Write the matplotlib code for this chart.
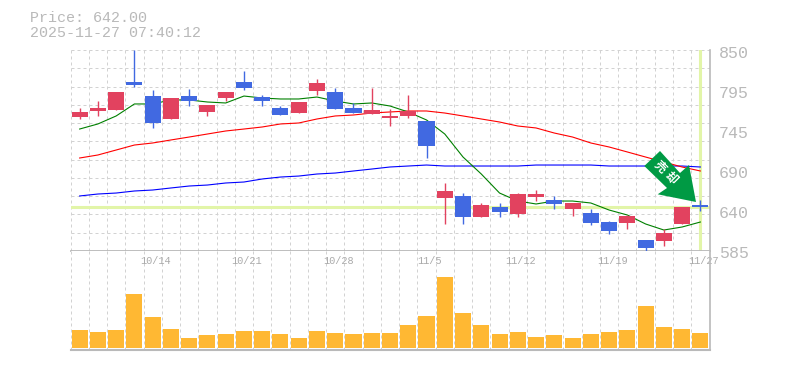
import matplotlib
matplotlib.use("Agg")
import matplotlib.pyplot as plt
import numpy as np
from matplotlib.patches import Polygon

W, H = 785, 370

# --- data ---
date_labels = ["10/14", "10/21", "10/28", "11/5", "11/12", "11/19", "11/27"]
date_index = [4, 9, 14, 19, 24, 29, 34]
price_labels = ["850", "795", "745", "690", "640", "585"]

opens = [761, 769, 770, 808, 789, 759, 789, 768, 786, 808, 788, 773, 767, 796, 795, 773,
         765, 760, 762, 756, 654, 657, 629, 642, 633, 655, 651, 640, 634, 622, 621, 598,
         597, 620, 645]
closes = [768, 773, 794, 804, 753, 786, 782, 777, 794, 800, 782, 764, 781, 806, 772, 767,
          771, 763, 769, 723, 663, 629, 645, 635, 659, 659, 646, 647, 621, 610, 630, 588,
          608, 642, 642]
highs = [773, 782, 794, 850, 797, 786, 798, 777, 795, 822, 790, 776, 781, 812, 799, 780,
         799, 772, 790, 756, 674, 660, 647, 647, 660, 665, 657, 647, 639, 624, 631, 598,
         613, 642, 651]
lows = [759, 763, 770, 801, 747, 759, 776, 763, 782, 797, 776, 764, 766, 791, 772, 767,
        765, 749, 760, 707, 619, 620, 629, 629, 629, 650, 640, 630, 618, 606, 613, 584,
        590, 620, 637]
volumes = [18, 16, 18, 54, 31, 19, 10, 13, 14, 17, 17, 14, 10, 17, 15, 14, 15, 15,
           23, 32, 71, 35, 23, 14, 16, 11, 13, 10, 14, 16, 18, 42, 21, 19, 15]

ma_short = [745.3, 752, 762.6, 778.5, 778.5, 783.8, 783.8, 781.1, 779.8, 789, 786.4, 785.1,
            785.1, 787.7, 782.4, 778.5, 779.8, 775.8, 767.9, 757.3, 738.7, 708.2, 685.7,
            660.5, 649.9, 646, 649.9, 649.9, 647.3, 638, 631.4, 619.5, 611.5, 615.5, 622.1]
ma_mid = [706.9, 710.9, 717.5, 724.1, 726.8, 730.8, 734.7, 738.7, 742.7, 745.3, 748, 752,
          753.3, 758.6, 762.6, 763.9, 766.5, 767.9, 769.2, 769.2, 766.5, 762.6, 758.6,
          754.6, 749.3, 746.7, 740, 734.7, 726.8, 721.5, 714.9, 708.2, 701.6, 695, 689.7]
ma_long = [656.6, 659.2, 660.5, 663.2, 664.5, 667.2, 669.8, 671.1, 673.8, 675.1, 679.1, 681.7,
           683, 685.7, 687, 689.7, 692.3, 695, 696.3, 697.6, 696.3, 696.3, 696.3, 696.3,
           696.3, 697.6, 697.6, 697.6, 697.6, 696.3, 696.3, 696.3, 696.3, 696.3, 695]

current_price = 642.0

RED = "#e2425f"
BLUE = "#4169e1"
ORANGE = "#ffb833"
GREY = "#b9b9b9"
GRID = "#d2d2d2"
HILITE = "#e2f5a8"
ARROW = "#009a44"
MONO = "Liberation Mono"
PX = 0.72  # one pixel in points


def fx(px):
    return px / W


def fy(py):
    return 1 - py / H


fig = plt.figure(figsize=(W / 100, H / 100), dpi=100, facecolor="white")

# axes placed in pixels
ax = fig.add_axes([fx(70.5), fy(251), (709.5 - 70.5) / W, 201 / H])
vol = fig.add_axes([fx(70.5), fy(350), (709.5 - 70.5) / W, 99 / H])

x = np.arange(len(opens))
ymin, ymax = 583.7, 850

for a in (ax, vol):
    a.set_xlim(-0.5, len(x) - 0.5)
    a.set_xticks(x - 0.5)
    a.tick_params(length=0, labelbottom=False, labelleft=False)
    a.grid(axis="x", color=GRID, lw=PX, ls=(0, (3, 3)))
    a.set_axisbelow(True)
    for s in a.spines.values():
        s.set_visible(False)

ax.set_ylim(ymin, ymax)
ax.set_yticks(np.linspace(ymin, ymax, 12))
ax.grid(axis="y", color=GRID, lw=PX, ls=(0, (3, 3)))

# highlight of last price and last date
ax.axhline(current_price, color=HILITE, lw=2.2, zorder=1)
ax.axvline(x[-1], color=HILITE, lw=2.2, zorder=1)

# moving averages
ax.plot(x, ma_long, color="#0000ff", lw=0.8, zorder=2)
ax.plot(x, ma_mid, color="#ff0000", lw=0.8, zorder=2)
ax.plot(x, ma_short, color="#008000", lw=0.8, zorder=2)

# candles, red is up and blue is down
for i in x:
    c = RED if closes[i] >= opens[i] else BLUE
    ax.vlines(i, lows[i], highs[i], color=c, lw=1.0, zorder=3)
    ax.bar(i, max(abs(closes[i] - opens[i]), 1.5), bottom=min(opens[i], closes[i]),
           width=0.88, color=c, lw=0, zorder=3)

# volume
vol.bar(x, volumes, width=0.88, color=ORANGE, lw=0, zorder=3)
vol.set_ylim(-2, 97)
vol.set_yticks([])
vol.spines["bottom"].set_visible(True)
vol.spines["bottom"].set_color(GREY)
vol.spines["bottom"].set_linewidth(1.5)

# frame lines
ax.spines["bottom"].set_visible(True)
ax.spines["bottom"].set_color(GREY)
ax.spines["bottom"].set_linewidth(1.3)
fig.add_artist(plt.Line2D([fx(709.5)] * 2, [fy(50), fy(350)], color=GREY, lw=1.2))

# signal arrow, drawn in figure pixels
arrow_px = [(660, 151), (644.3, 166), (667, 188), (657.7, 194.3), (696, 202), (689, 165), (680, 173)]
fig.add_artist(Polygon([(fx(a), fy(b)) for a, b in arrow_px], closed=True,
                       transform=fig.transFigure, facecolor=ARROW, edgecolor="none", zorder=5))
fig.text(fx(660), fy(167), "売", color="white", fontsize=8.5, rotation=-45, ha="center", va="center",
         family=["Noto Sans CJK JP", "DejaVu Sans"], weight="bold", zorder=6)
fig.text(fx(670.5), fy(178), "却", color="white", fontsize=8.5, rotation=-45, ha="center", va="center",
         family=["Noto Sans CJK JP", "DejaVu Sans"], weight="bold", zorder=6)

# texts
fig.text(fx(29.5), fy(18), "Price: %.2f" % current_price, color=GREY, fontsize=10.8,
         family=MONO, va="center", ha="left")
fig.text(fx(29.5), fy(33), "2025-11-27 07:40:12", color=GREY, fontsize=10.8,
         family=MONO, va="center", ha="left")

for lab, py in zip(price_labels, [53, 93, 133, 173, 213, 253]):
    fig.text(fx(719), fy(py), lab, color=GREY, fontsize=12, family=MONO, va="center", ha="left")

for lab, i in zip(date_labels, date_index):
    vol.text(i + 0.17, 1 - 10.5 / 99, lab, color="#aaaaaa", fontsize=7.4, family=MONO, ha="center", va="center",
             transform=vol.get_xaxis_transform(), clip_on=False, zorder=5)

fig.savefig("out.png", dpi=100, facecolor="white")
